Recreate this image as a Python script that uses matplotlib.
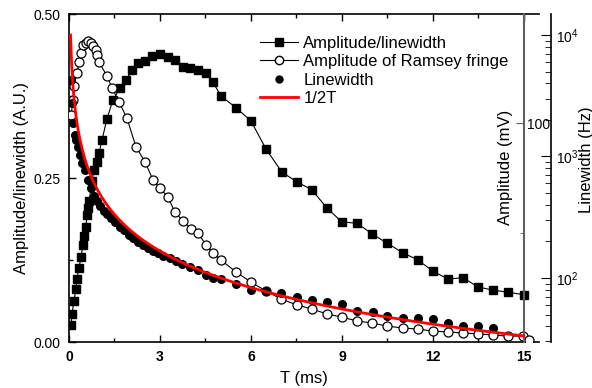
import numpy as np
import matplotlib
matplotlib.use("Agg")
import matplotlib.pyplot as plt
from matplotlib.lines import Line2D
from matplotlib.ticker import MultipleLocator, FixedLocator

plt.rcParams['font.family'] = ['Liberation Sans', 'DejaVu Sans']
plt.rcParams['mathtext.fontset'] = 'custom'
plt.rcParams['mathtext.rm'] = 'Liberation Sans'

# Amplitude/linewidth (A.U.)
t_ratio = [0.07, 0.10, 0.16, 0.23, 0.26, 0.33, 0.40, 0.46, 0.49, 0.56, 0.59, 0.63, 0.66,
           0.76, 0.82, 0.92, 0.99, 1.09, 1.25, 1.45, 1.68, 1.88, 2.08, 2.27, 2.51, 2.74,
           3.00, 3.26, 3.49, 3.76, 3.99, 4.25, 4.52, 4.75, 5.01, 5.51, 6.00, 6.50, 7.02,
           7.52, 8.01, 8.51, 9.00, 9.50, 9.99, 10.48, 11.01, 11.51, 12.00, 12.50, 12.99,
           13.49, 13.98, 14.47, 15.00]
ratio = [0.026, 0.043, 0.062, 0.081, 0.096, 0.113, 0.130, 0.148, 0.162, 0.175, 0.194, 0.204,
         0.215, 0.245, 0.262, 0.274, 0.288, 0.308, 0.340, 0.369, 0.387, 0.399, 0.415, 0.425,
         0.428, 0.436, 0.439, 0.434, 0.430, 0.419, 0.418, 0.415, 0.410, 0.396, 0.375, 0.357,
         0.337, 0.294, 0.259, 0.244, 0.232, 0.204, 0.183, 0.181, 0.165, 0.151, 0.136, 0.125,
         0.108, 0.096, 0.098, 0.084, 0.079, 0.076, 0.072]

# Amplitude of Ramsey fringe (mV)
t_amp = [0.07, 0.13, 0.16, 0.26, 0.33, 0.40, 0.46, 0.56, 0.63, 0.73, 0.79, 0.89, 0.92, 0.99,
         1.25, 1.42, 1.65, 1.91, 2.21, 2.51, 2.77, 3.00, 3.26, 3.49, 3.76, 4.02, 4.25, 4.52,
         4.75, 5.01, 5.51, 6.00, 6.50, 6.99, 7.52, 8.01, 8.51, 9.00, 9.50, 9.99, 10.48,
         11.01, 11.51, 12.00, 12.50, 12.99, 13.49, 13.98, 14.47, 14.97, 15.17]
amp = [103.8, 110.7, 117.1, 123.0, 128.0, 132.2, 135.8, 136.7, 137.6, 136.7, 135.4, 133.5,
       131.2, 128.0, 121.7, 116.2, 109.8, 102.4, 89.2, 82.3, 74.1, 70.4, 66.3, 59.5, 55.3,
       51.7, 49.8, 44.4, 40.7, 37.5, 32.0, 27.4, 23.3, 19.7, 16.9, 15.1, 12.8, 11.4, 9.6,
       8.7, 7.3, 6.4, 5.9, 5.0, 4.6, 4.1, 3.7, 3.2, 2.7, 2.7, 0.9]

# Linewidth (Hz)
t_lw = [0.07, 0.10, 0.13, 0.20, 0.23, 0.30, 0.36, 0.43, 0.53, 0.63, 0.73, 0.82, 0.92, 1.02,
        1.15, 1.25, 1.38, 1.52, 1.68, 1.81, 1.98, 2.11, 2.27, 2.44, 2.60, 2.77, 2.93, 3.10,
        3.33, 3.53, 3.73, 3.99, 4.25, 4.52, 4.75, 5.01, 5.51, 6.00, 6.50, 6.99, 7.52, 8.01,
        8.51, 9.00, 9.50, 10.02, 10.48, 11.01, 11.51, 12.00, 12.50, 12.99, 13.49, 13.98]
lw = [4266, 2757, 1886, 1504, 1368, 1197, 1029, 885, 775, 641, 551, 473, 430, 391, 356, 336,
      312, 289, 263, 248, 226, 213, 198, 187, 177, 167, 161, 152, 146, 138, 130, 123, 116,
      106, 100, 98, 89, 80, 78, 75, 70, 66, 63, 61, 53, 52, 49, 47, 47, 46, 43, 40, 40, 39]

# theory curve 1/2T (T in ms -> Hz)
t_fit = np.linspace(0.05, 15.0, 400)
fit = 1.0 / (2 * t_fit * 1e-3)

fig = plt.figure(figsize=(5.92, 3.88), dpi=100)
ax = fig.add_axes([69/592, 46/388, 470/592, 328/388])

ax.plot(t_ratio, ratio, '-', color='black', lw=0.8, marker='s', ms=6, mfc='black', mec='black')
ax.set_xlim(0, 15.5)
ax.set_ylim(0, 0.5)
ax.xaxis.set_major_locator(MultipleLocator(3))
ax.xaxis.set_minor_locator(MultipleLocator(1.5))
ax.set_yticks([0, 0.25, 0.5])
ax.set_yticklabels(['0.00', '0.25', '0.50'])
ax.yaxis.set_minor_locator(MultipleLocator(0.125))
ax.tick_params(which='both', direction='in', top=True, right=False, labelsize=10, pad=6)
ax.tick_params(which='major', length=5, width=1)
ax.tick_params(which='minor', length=3, width=1)
for lbl in ax.get_xticklabels():
    lbl.set_fontweight('bold')
ax.spines['right'].set_visible(False)
for s in ['left', 'top', 'bottom']:
    ax.spines[s].set_linewidth(1.2)
ax.set_xlabel('T (ms)', fontsize=12, labelpad=5)
ax.set_ylabel('Amplitude/linewidth (A.U.)', fontsize=12, labelpad=3)

# amplitude axis, placed at T = 15
ax_amp = ax.twinx()
ax_amp.plot(t_amp, amp, '-', color='black', lw=0.8, marker='o', ms=6.5, mfc='white',
            mec='black', mew=0.9)
ax_amp.set_ylim(0, 150)
ax_amp.spines['right'].set_position(('data', 15))
ax_amp.spines['right'].set_color('#606060')
ax_amp.spines['right'].set_linewidth(1.5)
for s in ['left', 'top', 'bottom']:
    ax_amp.spines[s].set_visible(False)
ax_amp.yaxis.set_major_locator(FixedLocator([100]))
ax_amp.yaxis.set_minor_locator(FixedLocator([50]))
ax_amp.tick_params(which='both', direction='in', labelsize=10, pad=2, color='#606060')
ax_amp.tick_params(which='major', length=6)
ax_amp.tick_params(which='minor', length=3)
ax.text(0.928, 0.531, 'Amplitude (mV)', transform=ax.transAxes, rotation=90,
        ha='center', va='center', fontsize=12)

# linewidth axis, log scale
ax_lw = ax.twinx()
ax_lw.plot(t_lw, lw, 'o', color='black', ms=5.5, mec='black')
ax_lw.plot(t_fit, fit, '-', color='red', lw=2)
ax_lw.set_yscale('log')
ax_lw.set_ylim(10**1.473, 10**4.173)
ax_lw.spines['right'].set_position(('outward', 8.5))
ax_lw.spines['right'].set_linewidth(1.2)
for s in ['left', 'top', 'bottom']:
    ax_lw.spines[s].set_visible(False)
ax_lw.tick_params(which='both', direction='in', labelsize=10, pad=4)
ax_lw.tick_params(which='major', length=7)
ax_lw.tick_params(which='minor', length=4)
ax.text(1.100, 0.555, 'Linewidth (Hz)', transform=ax.transAxes, rotation=90,
        ha='center', va='center', fontsize=12)

handles = [
    Line2D([], [], color='black', lw=0.8, marker='s', ms=6),
    Line2D([], [], color='black', lw=0.8, marker='o', ms=6, mfc='white', mec='black'),
    Line2D([], [], color='black', ls='none', marker='o', ms=5),
    Line2D([], [], color='red', lw=2),
]
labels = ['Amplitude/linewidth', 'Amplitude of Ramsey fringe', 'Linewidth', '1/2T']
ax_lw.legend(handles, labels, loc='upper left', bbox_to_anchor=(260/592, 1 - 36/388),
             bbox_transform=fig.transFigure, frameon=False, fontsize=12,
             handlelength=2.3, handletextpad=0.3, labelspacing=0.2, borderpad=0,
             borderaxespad=0, numpoints=1)

fig.savefig('out.png', dpi=100)
